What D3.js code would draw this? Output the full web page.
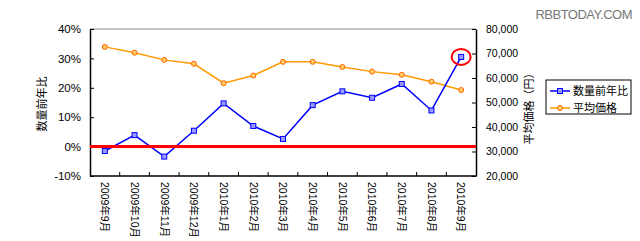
<!DOCTYPE html>
<html>
<head>
<meta charset="utf-8">
<script src="https://cdn.jsdelivr.net/npm/d3@7"></script>
<style>
  body { margin: 0; background: #fff; }
  text { font-family: "Liberation Sans", Arial, "Noto Sans CJK JP", sans-serif; fill: #000; }
</style>
</head>
<body>
<div id="chart"></div>
<script>
// data
const months = ["2009年9月", "2009年10月", "2009年11月", "2009年12月", "2010年1月", "2010年2月",
  "2010年3月", "2010年4月", "2010年5月", "2010年6月", "2010年7月", "2010年8月", "2010年9月"];
const volumeYoY = [-1.5, 3.9, -3.4, 5.4, 14.7, 7.0, 2.6, 14.1, 18.8, 16.6, 21.3, 12.3, 30.5];
const avgPrice = [72700, 70300, 67400, 65800, 57900, 61000, 66600, 66600, 64500, 62600, 61300, 58500, 55100];
const leftTicks = [-10, 0, 10, 20, 30, 40];
const rightTicks = [20000, 30000, 40000, 50000, 60000, 70000, 80000];
const seriesNames = ["数量前年比", "平均価格"];

const W = 640, H = 241;
const margin = {top: 29, right: 164, bottom: 65, left: 90};
const width = W - margin.left - margin.right;
const height = H - margin.top - margin.bottom;

const svg = d3.select("#chart").append("svg")
    .attr("width", W)
    .attr("height", H);

const g = svg.append("g")
    .attr("transform", "translate(" + margin.left + "," + margin.top + ")");

// scales
const x = d3.scaleBand().domain(months).range([0, width]);
const yL = d3.scaleLinear().domain([-10, 40]).range([height, 0]);
const yR = d3.scaleLinear().domain([20000, 80000]).range([height, 0]);
const cx = d => x(d) + x.bandwidth() / 2;

// frame: top edge gray
g.append("line")
    .attr("x1", 0).attr("x2", width).attr("y1", 0).attr("y2", 0)
    .attr("stroke", "#888").attr("stroke-width", 1);

// left axis
const axL = g.append("g")
    .call(d3.axisLeft(yL).tickValues(leftTicks).tickFormat(d => d + "%").tickSizeInner(-4).tickSizeOuter(0).tickPadding(9));
axL.select(".domain").attr("stroke", "#000").attr("stroke-width", 1.5);
axL.selectAll("text").style("font-size", "11.5px");

// right axis
const axR = g.append("g")
    .attr("transform", "translate(" + width + ",0)")
    .call(d3.axisRight(yR).tickValues(rightTicks).tickFormat(d3.format(",")).tickSizeInner(-4).tickSizeOuter(0).tickPadding(10));
axR.select(".domain").attr("stroke", "#000").attr("stroke-width", 1.5);
axR.selectAll("text").style("font-size", "10.5px");

// bottom axis: ticks at band boundaries, pointing inward
const axB = g.append("g")
    .attr("transform", "translate(0," + height + ")");
axB.append("line")
    .attr("x1", 0).attr("x2", width)
    .attr("stroke", "#000").attr("stroke-width", 1.5);
axB.selectAll(".tk")
    .data(months.slice(1))
    .enter().append("line")
    .attr("x1", d => x(d)).attr("x2", d => x(d))
    .attr("y1", 0).attr("y2", -4)
    .attr("stroke", "#000");
axB.selectAll(".lbl")
    .data(months)
    .enter().append("text")
    .attr("transform", d => "translate(" + cx(d) + ",6) rotate(90)")
    .attr("dy", "0.35em")
    .style("font-size", "10.5px")
    .text(d => d);

// axis titles
svg.append("text")
    .attr("transform", "translate(42,104) rotate(-90)")
    .attr("text-anchor", "middle")
    .attr("dy", "0.35em")
    .style("font-size", "11px")
    .text("数量前年比");
svg.append("text")
    .attr("transform", "translate(529,106) rotate(-90)")
    .attr("text-anchor", "middle")
    .attr("dy", "0.35em")
    .style("font-size", "11px")
    .text("平均価格（円）");

// lines
const orange = "#ff9900", blue = "#0000ff";
g.append("path")
    .datum(avgPrice)
    .attr("fill", "none").attr("stroke", orange).attr("stroke-width", 1.5)
    .attr("d", d3.line().x((d, i) => cx(months[i])).y(d => yR(d)));
g.append("path")
    .datum(volumeYoY)
    .attr("fill", "none").attr("stroke", blue).attr("stroke-width", 1.5)
    .attr("d", d3.line().x((d, i) => cx(months[i])).y(d => yL(d)));

// zero line
g.append("line")
    .attr("x1", 0).attr("x2", width)
    .attr("y1", yL(0)).attr("y2", yL(0))
    .attr("stroke", "#ff0000").attr("stroke-width", 3);

// markers
g.selectAll(".om")
    .data(avgPrice)
    .enter().append("circle")
    .attr("cx", (d, i) => cx(months[i]))
    .attr("cy", d => yR(d))
    .attr("r", 2.5)
    .attr("fill", "#ffcc66").attr("stroke", "#ff6600").attr("stroke-width", 1);
g.selectAll(".bm")
    .data(volumeYoY)
    .enter().append("rect")
    .attr("x", (d, i) => cx(months[i]) - 2.5)
    .attr("y", d => yL(d) - 2.5)
    .attr("width", 5).attr("height", 5)
    .attr("fill", "#9999ff").attr("stroke", blue).attr("stroke-width", 1);

// red circle around the latest point
const last = months.length - 1;
g.append("ellipse")
    .attr("cx", cx(months[last]))
    .attr("cy", yL(volumeYoY[last]))
    .attr("rx", 9.5).attr("ry", 8)
    .attr("fill", "none").attr("stroke", "#ff0000").attr("stroke-width", 2);

// legend
const lg = svg.append("g").attr("transform", "translate(546,80)");
lg.append("rect")
    .attr("width", 85).attr("height", 34)
    .attr("fill", "#fff").attr("stroke", "#000").attr("stroke-width", 1);
const colors = [blue, orange];
seriesNames.forEach(function(name, i) {
    const yy = 11 + i * 17;
    lg.append("line")
        .attr("x1", 4).attr("x2", 24).attr("y1", yy).attr("y2", yy)
        .attr("stroke", colors[i]).attr("stroke-width", 1.5);
    if (i === 0) {
        lg.append("rect").attr("x", 11.5).attr("y", yy - 2.5).attr("width", 5).attr("height", 5)
            .attr("fill", "#9999ff").attr("stroke", blue);
    } else {
        lg.append("circle").attr("cx", 14).attr("cy", yy).attr("r", 2.5)
            .attr("fill", "#ffcc66").attr("stroke", "#ff6600");
    }
    lg.append("text")
        .attr("x", 27).attr("y", yy)
        .attr("dy", "0.35em")
        .style("font-size", "11px")
        .text(name);
});

// watermark
svg.append("text")
    .attr("x", 632).attr("y", 19)
    .attr("text-anchor", "end")
    .style("font-size", "13px")
    .style("fill", "#777")
    .style("letter-spacing", "-0.5px")
    .text("RBBTODAY.COM");
</script>
</body>
</html>
